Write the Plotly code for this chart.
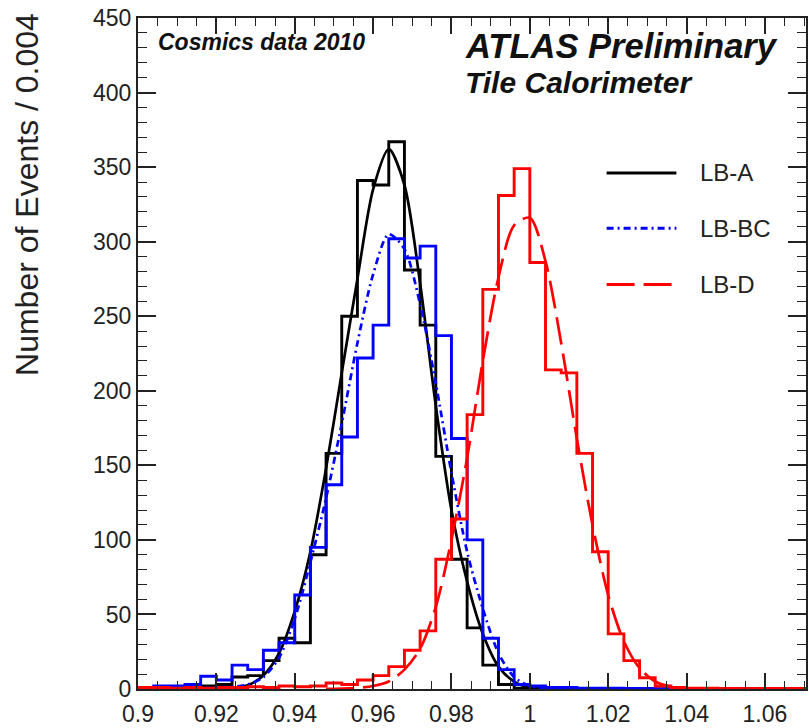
import plotly.graph_objects as go

# ---------------- data ----------------
BIN_WIDTH = 0.004
N_BINS = 43
bin_low = [round(0.9 + BIN_WIDTH * k, 3) for k in range(N_BINS)]

lba_counts = [0, 0, 0.5, 1, 2, 3, 8, 9, 19, 34, 31, 90, 158, 250, 341, 338, 367, 281, 244, 156,
              87, 41, 16, 3, 0.5] + [0] * 18
lbbc_counts = [1, 2, 2, 3, 8.6, 6, 16, 13, 26, 31, 63, 95, 137, 169, 222, 244, 302, 289, 297, 237,
               168, 100, 34, 13, 3, 2, 1, 1, 0.5, 0.5, 0.5, 0.3, 0.3, 0.2] + [0] * 9
lbd_counts = [1, 1, 0.5, 1, 0.5, 1, 1, 1.5, 1, 2, 1.5, 2, 4, 3, 6, 9, 15, 26, 39, 87,
              114, 184, 268, 331, 349, 286, 214, 212, 158, 92, 37, 19, 7.5, 2, 1, 0.5, 0.5, 0.3,
              0.3, 0.3, 0.3, 0.3, 0.3]

fit_a_x = [0.916, 0.920, 0.924, 0.928, 0.932, 0.936, 0.940, 0.944, 0.948, 0.952, 0.956, 0.960,
           0.964, 0.968, 0.972, 0.976, 0.980, 0.984, 0.988, 0.992, 0.996, 1.000, 1.004]
fit_a_y = [0, 0.2, 0.8, 2.5, 9, 24, 52, 92, 148, 212, 275, 335,
           362, 338, 272, 190, 120, 72, 37, 15, 5, 1, 0.2]

fit_bc_x = [0.908, 0.912, 0.916, 0.920, 0.924, 0.928, 0.932, 0.936, 0.940, 0.944, 0.948, 0.952,
            0.956, 0.960, 0.964, 0.968, 0.972, 0.976, 0.980, 0.984, 0.988, 0.992, 0.996, 1.000,
            1.004, 1.008]
fit_bc_y = [0.2, 0.3, 0.5, 1, 1.5, 3, 8, 21, 47, 85, 128, 178,
            232, 278, 305, 295, 258, 205, 145, 92, 54, 24, 8, 2,
            0.5, 0.1]

fit_d_x = [0.948, 0.952, 0.956, 0.960, 0.964, 0.968, 0.972, 0.976, 0.980, 0.984, 0.988, 0.992,
           0.996, 1.000, 1.004, 1.008, 1.012, 1.016, 1.020, 1.024, 1.028, 1.032, 1.036, 1.040,
           1.044, 1.048]
fit_d_y = [0.1, 0.3, 0.8, 2, 5, 13, 27, 55, 100, 155, 220, 276,
           311, 316, 287, 232, 168, 110, 63, 32, 14, 5, 1.5, 0.4,
           0.1, 0]

series_names = ["LB-A", "LB-BC", "LB-D"]
series_colors = ["#000000", "#0000ff", "#ff0000"]

x_tick_vals = [0.9, 0.92, 0.94, 0.96, 0.98, 1.0, 1.02, 1.04, 1.06]
x_tick_text = ["0.9", "0.92", "0.94", "0.96", "0.98", "1", "1.02", "1.04", "1.06"]
y_tick_vals = [0, 50, 100, 150, 200, 250, 300, 350, 400, 450]
y_tick_text = [str(v) for v in y_tick_vals]

# ---------------- figure ----------------
W, H = 809, 728
ML, MR, MT, MB = 138, 1, 18, 30
PW, PH = W - ML - MR, H - MT - MB


def px_x(p):
    return (p - ML) / PW


def px_y(p):
    return (H - MB - p) / PH


def step(counts):
    xs = bin_low + [round(bin_low[-1] + BIN_WIDTH, 3)]
    ys = list(counts) + [counts[-1]]
    return xs, ys


fig = go.Figure()
dashes = ["solid", "7px,4px,2px,4px", "28px,9px"]
hists = [lba_counts, lbbc_counts, lbd_counts]
fits = [(fit_a_x, fit_a_y), (fit_bc_x, fit_bc_y), (fit_d_x, fit_d_y)]

for name, col, h, (fx, fy), dsh in zip(series_names, series_colors, hists, fits, dashes):
    xs, ys = step(h)
    fig.add_trace(go.Scatter(x=xs, y=ys, mode="lines", line=dict(color=col, width=2.9, shape="hv"),
                             name=name + " data", showlegend=False, hoverinfo="skip"))
    fig.add_trace(go.Scatter(x=fx, y=fy, mode="lines",
                             line=dict(color=col, width=2.7, shape="spline", smoothing=0.8, dash=dsh),
                             name=name, showlegend=False))

tickfont = dict(family="Liberation Sans, Arial, sans-serif", size=23, color="#222222")
fig.update_xaxes(range=[0.9, 0.9 + PW / 3930.0], tickvals=x_tick_vals, ticktext=x_tick_text,
                 ticks="inside", ticklen=16, tickwidth=1.5, tickcolor="#222",
                 showline=True, linecolor="#222", linewidth=2, mirror="ticks",
                 showgrid=False, zeroline=False, tickfont=tickfont, ticklabelstandoff=3,
                 minor=dict(dtick=0.005, tick0=0.9, ticks="inside", ticklen=8, tickwidth=1.2,
                            tickcolor="#222", showgrid=False))
fig.update_yaxes(range=[0, 450], tickvals=y_tick_vals, ticktext=y_tick_text,
                 ticks="inside", ticklen=18, tickwidth=1.5, tickcolor="#222",
                 showline=True, linecolor="#222", linewidth=2, mirror="ticks",
                 showgrid=False, zeroline=False, tickfont=tickfont,
                 minor=dict(dtick=10, tick0=0, ticks="inside", ticklen=9, tickwidth=1.2,
                            tickcolor="#222", showgrid=False))

ann_font = "Liberation Sans, Arial, sans-serif"
annotations = [
    dict(text="<b><i>Cosmics data 2010</i></b>", x=px_x(156), y=px_y(42), xanchor="left", yanchor="middle",
         font=dict(family=ann_font, size=23, color="#111")),
    dict(text="<b><i>ATLAS Preliminary</i></b>", x=px_x(464), y=px_y(46), xanchor="left", yanchor="middle",
         font=dict(family=ann_font, size=34.5, color="#111")),
    dict(text="<b><i>Tile Calorimeter</i></b>", x=px_x(464), y=px_y(83), xanchor="left", yanchor="middle",
         font=dict(family=ann_font, size=30, color="#111")),
    dict(text="Number of Events / 0.004", textangle=-90, x=px_x(26), y=px_y(197),
         xanchor="center", yanchor="middle", font=dict(family=ann_font, size=32, color="#222")),
]
legend_y = [175, 231, 288]
shapes = []
for name, col, dsh, ly in zip(series_names, series_colors, dashes, legend_y):
    annotations.append(dict(text=name, x=px_x(700), y=px_y(ly), xanchor="left", yanchor="middle",
                            font=dict(family=ann_font, size=24, color="#222")))
    shapes.append(dict(type="line", xref="paper", yref="paper", x0=px_x(608), x1=px_x(678),
                       y0=px_y(ly), y1=px_y(ly), line=dict(color=col, width=3, dash=dsh)))

for a in annotations:
    a.update(xref="paper", yref="paper", showarrow=False)

fig.update_layout(width=W, height=H, margin=dict(l=ML, r=MR, t=MT, b=MB),
                  plot_bgcolor="white", paper_bgcolor="white",
                  annotations=annotations, shapes=shapes, showlegend=False)

fig.write_html("out.html")
